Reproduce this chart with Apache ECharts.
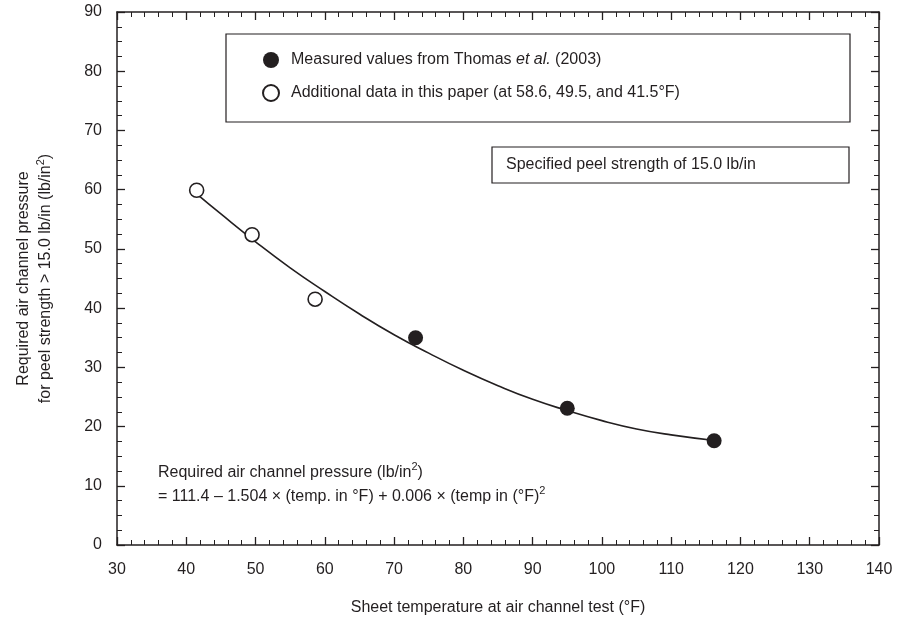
<!DOCTYPE html>
<html>
<head>
<meta charset="utf-8">
<script src="https://cdn.jsdelivr.net/npm/echarts@6/dist/echarts.min.js"></script>
<style>
html,body{margin:0;padding:0;background:#fff;}
#chart{width:902px;height:621px;}
</style>
</head>
<body>
<div id="chart"></div>
<script>
// ---- Data ----
var measuredTemps = [73.1, 95.0, 116.2];
var measuredPressures = [35.0, 23.1, 17.6];
var additionalTemps = [41.5, 49.5, 58.6];
var additionalPressures = [59.9, 52.4, 41.5];
var curveTemps = [41.5, 45, 50, 55, 60, 65, 70, 75, 80, 85, 90, 95, 100, 105, 110, 116];
var curvePressures = [59.3, 55.9, 51.2, 46.8, 42.8, 39.0, 35.5, 32.4, 29.5, 26.9, 24.6, 22.7, 21.0, 19.6, 18.6, 17.7];
var xTicks = [30, 40, 50, 60, 70, 80, 90, 100, 110, 120, 130, 140];
var yTicks = [0, 10, 20, 30, 40, 50, 60, 70, 80, 90];
var legendNames = ['Measured values from Thomas et al. (2003)', 'Additional data in this paper (at 58.6, 49.5, and 41.5\u00B0F)'];

function pairs(xs, ys) { return xs.map(function (x, i) { return [x, ys[i]]; }); }

var INK = '#231f20';
var FONT = '"Liberation Sans", Arial, Helvetica, sans-serif';

function axisBase(extra) {
  var base = {
    type: 'value',
    axisLine: { show: true, onZero: false, lineStyle: { color: INK, width: 1.5 } },
    axisTick: { show: true, inside: true, length: 8, lineStyle: { color: INK, width: 1.3 } },
    minorTick: { show: true, length: 5, lineStyle: { color: INK, width: 1 } },
    splitLine: { show: false },
    minorSplitLine: { show: false },
    axisLabel: { show: false }
  };
  for (var k in extra) base[k] = extra[k];
  return base;
}

var chart = echarts.init(document.getElementById('chart'), null, { renderer: 'canvas' });

var option = {
  backgroundColor: '#ffffff',
  animation: false,
  textStyle: { fontFamily: FONT, color: INK },
  grid: { left: 117, right: 23, top: 12, bottom: 76, containLabel: false },
  xAxis: [
    axisBase({
      position: 'bottom', min: xTicks[0], max: xTicks[xTicks.length - 1], interval: 10,
      minorTick: { show: true, splitNumber: 5, length: 5, lineStyle: { color: INK, width: 1 } },
      axisLabel: { show: true, margin: 17, fontSize: 16, color: INK, fontFamily: FONT },
      name: 'Sheet temperature at air channel test (\u00B0F)',
      nameLocation: 'middle', nameGap: 55,
      nameTextStyle: { fontSize: 16, color: INK, fontFamily: FONT }
    }),
    axisBase({
      position: 'top', min: xTicks[0], max: xTicks[xTicks.length - 1], interval: 10,
      minorTick: { show: true, splitNumber: 5, length: 5, lineStyle: { color: INK, width: 1 } }
    })
  ],
  yAxis: [
    axisBase({
      position: 'left', min: yTicks[0], max: yTicks[yTicks.length - 1], interval: 10,
      minorTick: { show: true, splitNumber: 4, length: 5, lineStyle: { color: INK, width: 1 } },
      axisLabel: { show: true, margin: 15, fontSize: 16, color: INK, fontFamily: FONT },
      name: '{a|Required air channel pressure}\n{a|for peel strength > 15.0 lb/in (lb/in}{s|2}{a|)}',
      nameLocation: 'middle', nameGap: 60, nameRotate: 90,
      nameTextStyle: {
        color: INK, fontFamily: FONT,
        rich: {
          a: { fontSize: 16, lineHeight: 22, color: INK, fontFamily: FONT },
          s: { fontSize: 11, lineHeight: 12, verticalAlign: 'top', color: INK, fontFamily: FONT }
        }
      }
    }),
    axisBase({
      position: 'right', min: yTicks[0], max: yTicks[yTicks.length - 1], interval: 10,
      minorTick: { show: true, splitNumber: 4, length: 5, lineStyle: { color: INK, width: 1 } }
    })
  ],
  legend: {
    orient: 'vertical',
    left: 262, top: 52,
    itemWidth: 16, itemHeight: 16, itemGap: 16,
    padding: 0,
    icon: 'circle',
    data: legendNames,
    formatter: function (name) {
      if (name.indexOf('et al.') >= 0) {
        return '{n|Measured values from Thomas }{i|et al.}{n| (2003)}';
      }
      return '{n|' + name + '}';
    },
    textStyle: {
      fontSize: 16, color: INK, fontFamily: FONT, padding: [0, 0, 0, 7],
      rich: {
        n: { fontSize: 16, lineHeight: 16, color: INK, fontFamily: FONT },
        i: { fontSize: 16, lineHeight: 16, fontStyle: 'italic', color: INK, fontFamily: FONT }
      }
    }
  },
  graphic: [
    { type: 'rect', shape: { x: 226, y: 34, width: 624, height: 88 },
      style: { fill: 'none', stroke: INK, lineWidth: 1.2 }, z: 10 },
    { type: 'rect', shape: { x: 492, y: 147, width: 357, height: 36 },
      style: { fill: 'none', stroke: INK, lineWidth: 1.2 }, z: 10 },
    { type: 'text', left: 506, top: 157, z: 10,
      style: { text: 'Specified peel strength of 15.0 lb/in', font: '16px ' + FONT, fill: INK } },
    { type: 'text', left: 158, top: 461, z: 10,
      style: {
        text: '{a|Required air channel pressure (lb/in}{s|2}{a|)}\n{a|= 111.4 \u2013 1.504 \u00D7 (temp. in \u00B0F) + 0.006 \u00D7 (temp in (\u00B0F)}{s|2}',
        fill: INK,
        rich: {
          a: { fontSize: 16, lineHeight: 24, fontFamily: FONT, fill: INK },
          s: { fontSize: 11, lineHeight: 14, verticalAlign: 'top', fontFamily: FONT, fill: INK }
        }
      } }
  ],
  series: [
    {
      name: 'fit', type: 'line', xAxisIndex: 0, yAxisIndex: 0,
      data: pairs(curveTemps, curvePressures),
      smooth: true, showSymbol: false, symbol: 'none',
      lineStyle: { color: INK, width: 1.6 }, z: 1
    },
    {
      name: legendNames[0], type: 'scatter', xAxisIndex: 0, yAxisIndex: 0,
      data: pairs(measuredTemps, measuredPressures),
      symbol: 'circle', symbolSize: 15,
      itemStyle: { color: INK, borderColor: INK, borderWidth: 0, opacity: 1 }, z: 3
    },
    {
      name: legendNames[1], type: 'scatter', xAxisIndex: 0, yAxisIndex: 0,
      data: pairs(additionalTemps, additionalPressures),
      symbol: 'circle', symbolSize: 14,
      itemStyle: { color: '#ffffff', borderColor: INK, borderWidth: 1.6, opacity: 1 }, z: 3
    }
  ]
};
chart.setOption(option);
</script>
</body>
</html>
